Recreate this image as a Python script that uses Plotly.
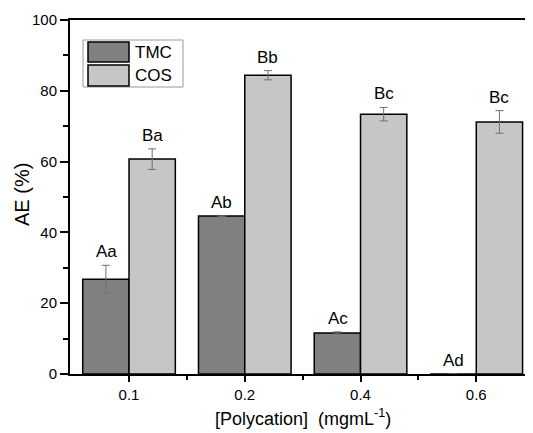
import plotly.graph_objects as go

categories = ["0.1", "0.2", "0.4", "0.6"]
tmc_values = [26.8, 44.6, 11.6, 0.0]
tmc_errors = [3.9, 0.0, 0.3, 0.0]
cos_values = [60.7, 84.4, 73.4, 71.2]
cos_errors = [2.9, 1.3, 1.9, 3.2]
tmc_labels = ["Aa", "Ab", "Ac", "Ad"]
cos_labels = ["Ba", "Bb", "Bc", "Bc"]
y_ticks = [0, 20, 40, 60, 80, 100]
x_title = "[Polycation]  (mgmL<sup>-1</sup>)"
y_title = "AE (%)"

xpos = list(range(len(categories)))
FONT = "Liberation Sans, Arial, sans-serif"

# page body has an 8px margin; figure is sized/margined to compensate
OFF = 8
W, H = 525, 425
# plot area in window pixels: left 70, right 533, top 20, bottom 374
L_WIN, R_WIN, T_WIN, B_WIN = 70, 533, 20, 374
ML, MT = L_WIN - OFF, T_WIN - OFF
MR = W - (R_WIN - OFF)
MB = H - (B_WIN - OFF)
PW, PH = R_WIN - L_WIN, B_WIN - T_WIN

fig = go.Figure()
fig.add_trace(go.Bar(
    x=xpos, y=tmc_values, name="TMC",
    marker=dict(color="#808080", line=dict(color="#000000", width=1.5)),
    error_y=dict(type="data", array=tmc_errors, color="#707070", thickness=1, width=4),
    showlegend=False,
))
fig.add_trace(go.Bar(
    x=xpos, y=cos_values, name="COS",
    marker=dict(color="#c6c6c6", line=dict(color="#000000", width=1.5)),
    error_y=dict(type="data", array=cos_errors, color="#707070", thickness=1, width=4),
    showlegend=False,
))

# letter labels above bars
for i in xpos:
    fig.add_annotation(x=i, y=tmc_values[i] + tmc_errors[i], text=tmc_labels[i],
                       xshift=-23, yshift=2, yanchor="bottom", showarrow=False,
                       font=dict(size=17, color="#000", family=FONT))
    fig.add_annotation(x=i, y=cos_values[i] + cos_errors[i], text=cos_labels[i],
                       xshift=23, yshift=2, yanchor="bottom", showarrow=False,
                       font=dict(size=17, color="#000", family=FONT))

# window pixel -> plot-area paper coords
def px(x): return (x - L_WIN) / PW
def py(y): return (B_WIN - y) / PH

# manual legend with large swatches
fig.add_shape(type="rect", xref="paper", yref="paper", x0=px(83), x1=px(183), y0=py(87), y1=py(40),
              line=dict(color="#999", width=1), fillcolor="white", layer="above")
for (name, col, y0, y1) in [("TMC", "#808080", 42, 62), ("COS", "#c6c6c6", 65, 86)]:
    fig.add_shape(type="rect", xref="paper", yref="paper", x0=px(88), x1=px(129), y0=py(y1), y1=py(y0),
                  line=dict(color="#000", width=1.5), fillcolor=col, layer="above")
    fig.add_annotation(xref="paper", yref="paper", x=px(133), y=py((y0 + y1) / 2), text=name,
                       xanchor="left", yanchor="middle", showarrow=False,
                       font=dict(size=17, color="#000", family=FONT))

# axis titles
fig.add_annotation(xref="paper", yref="paper", x=px(303), y=py(417), text=x_title,
                   xanchor="center", yanchor="middle", showarrow=False,
                   font=dict(size=18, color="#000", family=FONT))
fig.add_annotation(xref="paper", yref="paper", x=px(22), y=py(195), text=y_title, textangle=-90,
                   xanchor="center", yanchor="middle", showarrow=False,
                   font=dict(size=20, color="#000", family=FONT))

fig.update_layout(
    width=W, height=H,
    margin=dict(l=ML, r=MR, t=MT, b=MB, autoexpand=False),
    barmode="group", bargap=0.2, bargroupgap=0,
    plot_bgcolor="white", paper_bgcolor="white",
    font=dict(family=FONT, color="#000"),
)
fig.update_xaxes(
    range=[-0.51, 3.49], tickvals=xpos, ticktext=categories,
    ticks="outside", ticklen=6, tickwidth=1.5, tickcolor="#000",
    minor=dict(tickvals=[0.5, 1.5, 2.5], ticks="outside", ticklen=4, tickwidth=1.5, tickcolor="#000"),
    showline=True, linecolor="#000", linewidth=2, mirror=True,
    showgrid=False, zeroline=False,
    tickfont=dict(size=15, family=FONT),
)
fig.update_yaxes(
    range=[0, 100], tickvals=y_ticks,
    ticks="outside", ticklen=8, tickwidth=1.5, tickcolor="#000",
    minor=dict(tickvals=[10, 30, 50, 70, 90], ticks="outside", ticklen=5, tickwidth=1.5, tickcolor="#000"),
    showline=True, linecolor="#000", linewidth=2, mirror=False,
    showgrid=False, zeroline=False,
    tickfont=dict(size=15, family=FONT),
)

fig.write_html("out.html")
